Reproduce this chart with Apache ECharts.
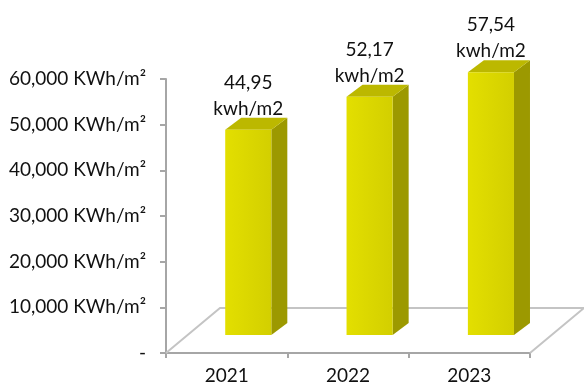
<!DOCTYPE html>
<html>
<head>
<meta charset="utf-8">
<script src="https://cdn.jsdelivr.net/npm/echarts@6/dist/echarts.min.js"></script>
<style>
  html, body { margin: 0; padding: 0; background: #ffffff; }
  #chart { width: 584px; height: 388px; }
</style>
</head>
<body>
<div id="chart"></div>
<script>
// Annual energy intensity per year
const years = ['2021', '2022', '2023'];
const consumption = [44.95, 52.17, 57.54];
const unitLabel = 'kwh/m2';
const yTickLabels = ['-', '10,000 KWh/m²', '20,000 KWh/m²', '30,000 KWh/m²',
                     '40,000 KWh/m²', '50,000 KWh/m²', '60,000 KWh/m²'];

const FONT = 'Lato, "Open Sans", sans-serif';

// Oblique projection of the floor (depth vector) and of each bar
const FLOOR_DEPTH = [54, -45];
const BAR_POS = 0.4;        // where the bar front sits within the floor depth
const BAR_DEPTH = [16, -12];
const BAR_WIDTH_RATIO = 0.38;

const chart = echarts.init(document.getElementById('chart'), null, { renderer: 'canvas' });

function renderFloor(params, api) {
  const cs = params.coordSys;
  const x0 = cs.x, x1 = cs.x + cs.width, y = cs.y + cs.height;
  const [dx, dy] = FLOOR_DEPTH;
  return {
    type: 'polyline',
    shape: { points: [[x0, y], [x0 + dx, y + dy], [x1 + dx, y + dy], [x1, y]] },
    style: { stroke: '#c4c4c4', lineWidth: 2, fill: null }
  };
}

function renderBar(params, api) {
  const idx = api.value(0);
  const val = api.value(1);
  const base = api.coord([idx, 0]);
  const top = api.coord([idx, val]);
  const band = api.size([1, 0])[0];
  const w = band * BAR_WIDTH_RATIO;
  const sx = FLOOR_DEPTH[0] * BAR_POS, sy = FLOOR_DEPTH[1] * BAR_POS;
  const [bx, by] = BAR_DEPTH;
  const xl = base[0] + sx - w / 2;
  const xr = xl + w;
  const yb = base[1] + sy;
  const yt = top[1] + sy;
  const text = val.toFixed(2).replace('.', ',') + '\n' + unitLabel;
  return {
    type: 'group',
    children: [
      {
        type: 'polygon',
        shape: { points: [[xr, yt], [xr + bx, yt + by], [xr + bx, yb + by], [xr, yb]] },
        style: { fill: '#9c9900' }
      },
      {
        type: 'polygon',
        shape: { points: [[xl, yt], [xr, yt], [xr + bx, yt + by], [xl + bx, yt + by]] },
        style: { fill: '#bcb800' }
      },
      {
        type: 'rect',
        shape: { x: xl, y: yt, width: w, height: yb - yt },
        style: {
          fill: new echarts.graphic.LinearGradient(0, 0, 1, 0, [
            { offset: 0, color: '#e3df00' },
            { offset: 1, color: '#d3cf00' }
          ])
        }
      },
      {
        type: 'text',
        x: (xl + xr) / 2,
        y: yt + by + 4,
        style: {
          text: text,
          fill: '#111111',
          font: '19px ' + FONT,
          lineHeight: 26,
          align: 'center',
          verticalAlign: 'bottom'
        }
      }
    ]
  };
}

const option = {
  animation: false,
  backgroundColor: '#ffffff',
  grid: { left: 166, right: 54, top: 79, bottom: 35, containLabel: false },
  xAxis: {
    type: 'category',
    data: years,
    boundaryGap: true,
    axisLine: { lineStyle: { color: '#a6a6a6', width: 2 } },
    axisTick: { show: true, length: 5, lineStyle: { color: '#a6a6a6', width: 2 } },
    axisLabel: { color: '#111111', fontSize: 19, fontFamily: FONT, margin: 13 }
  },
  yAxis: {
    type: 'value',
    min: 0,
    max: 60,
    interval: 10,
    splitLine: { show: false },
    axisLine: { show: true, lineStyle: { color: '#a6a6a6', width: 2 } },
    axisTick: { show: true, length: 6, lineStyle: { color: '#a6a6a6', width: 2 } },
    axisLabel: {
      color: '#111111', fontSize: 19, fontFamily: FONT, margin: 20,
      formatter: v => yTickLabels[Math.round(v / 10)]
    }
  },
  series: [
    {
      type: 'custom',
      z: 1,
      renderItem: renderFloor,
      data: [[0, 0]],
      silent: true
    },
    {
      type: 'custom',
      z: 2,
      renderItem: renderBar,
      data: consumption.map((v, i) => [i, v]),
      encode: { x: 0, y: 1 }
    }
  ]
};

chart.setOption(option);
</script>
</body>
</html>
